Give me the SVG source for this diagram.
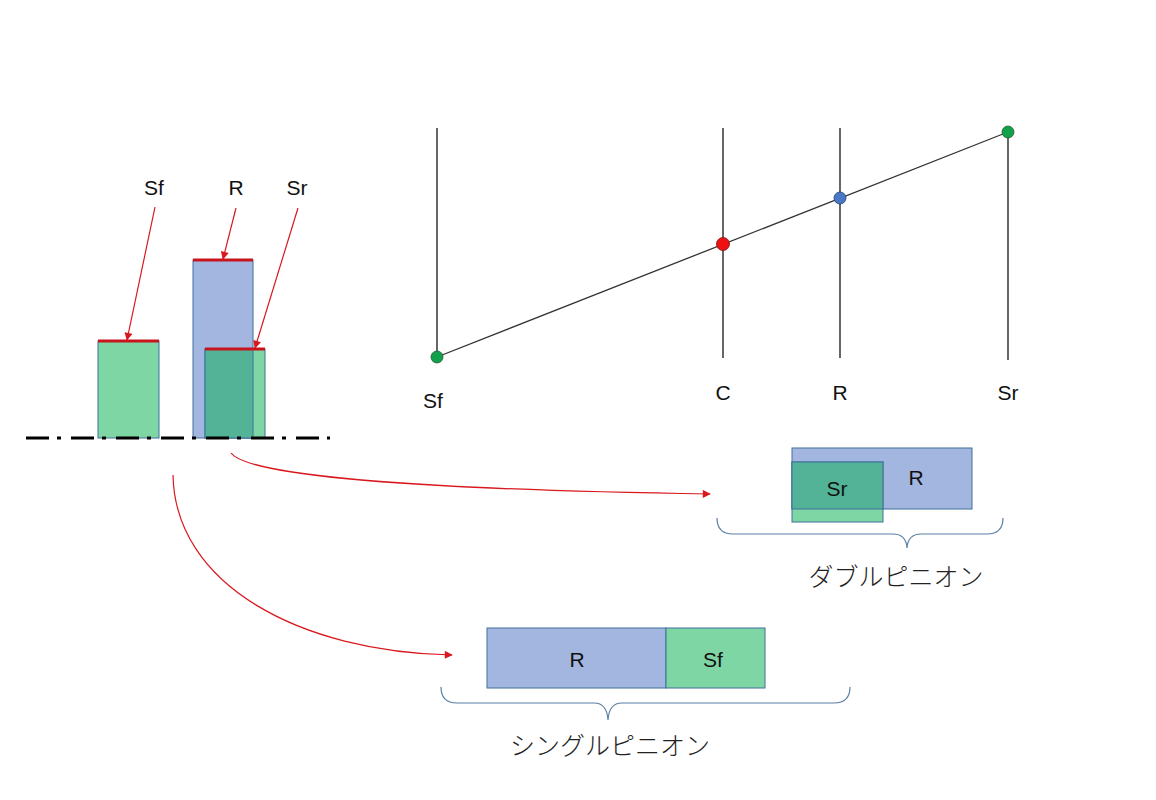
<svg xmlns="http://www.w3.org/2000/svg" width="1156" height="800" viewBox="0 0 1156 800">
<defs>
<marker id="ah" viewBox="0 0 10 10" refX="9" refY="5" markerWidth="9" markerHeight="8" markerUnits="userSpaceOnUse" orient="auto">
<path d="M0,0 L10,5 L0,10 Z" fill="#d9181e"/>
</marker>
<style>
.lbl{font-family:"Liberation Sans",Arial,sans-serif;font-size:21px;fill:#111;text-anchor:middle}
.jp{font-family:"Noto Sans CJK JP","Liberation Sans",sans-serif;font-size:25px;font-weight:300;fill:#222;text-anchor:middle}
.green{fill:#7fd6a5;stroke:#41719c;stroke-width:1}
.blue{fill:#a2b6e0;stroke:#41719c;stroke-width:1}
.teal{fill:#52b396;stroke:#41719c;stroke-width:1}
.red{stroke:#d9181e;stroke-width:1.2;fill:none}
.top{stroke:#c8141c;stroke-width:3}
.vl{stroke:#000;stroke-width:1.2}
.brace{fill:none;stroke:#5a7ea6;stroke-width:1.2}
</style>
</defs>
<rect width="1156" height="800" fill="#fff"/>

<g id="left-bars">
<rect class="green" x="98" y="341" width="61" height="97"/>
<rect class="blue" x="193" y="260" width="60" height="178"/>
<rect class="green" x="205" y="349" width="60" height="89"/>
<rect class="teal" x="205" y="349" width="48" height="89"/>
<line class="top" x1="98" y1="341" x2="159" y2="341"/>
<line class="top" x1="193" y1="260" x2="253" y2="260"/>
<line class="top" x1="205" y1="349" x2="265" y2="349"/>
<line x1="26" y1="438" x2="330" y2="438" stroke="#000" stroke-width="3" stroke-dasharray="23 8 4 10"/>
<text class="lbl" x="154" y="195">Sf</text>
<text class="lbl" x="236" y="195">R</text>
<text class="lbl" x="297" y="195">Sr</text>
</g>

<g id="nomogram">
<line class="vl" x1="437" y1="128" x2="437" y2="357"/>
<line class="vl" x1="723" y1="128" x2="723" y2="358"/>
<line class="vl" x1="840" y1="128" x2="840" y2="358"/>
<line class="vl" x1="1008" y1="132" x2="1008" y2="360"/>
<line x1="437" y1="357" x2="1008" y2="132" stroke="#333" stroke-width="1.3"/>
<circle cx="437" cy="357" r="6" fill="#12a04a" stroke="#1d5a33" stroke-width="0.8"/>
<circle cx="723" cy="244" r="6.5" fill="#ee1111" stroke="#7a1010" stroke-width="0.8"/>
<circle cx="840" cy="198" r="6" fill="#4a78c6" stroke="#23406e" stroke-width="0.8"/>
<circle cx="1008" cy="132" r="6" fill="#12a04a" stroke="#1d5a33" stroke-width="0.8"/>
<text class="lbl" x="433" y="408">Sf</text>
<text class="lbl" x="723" y="400">C</text>
<text class="lbl" x="840" y="400">R</text>
<text class="lbl" x="1008" y="400">Sr</text>
</g>

<g id="double-pinion">
<rect class="blue" x="792" y="448" width="180" height="61"/>
<rect class="green" x="792" y="462" width="91" height="60"/>
<rect class="teal" x="792" y="462" width="91" height="47"/>
<text class="lbl" x="837" y="496">Sr</text>
<text class="lbl" x="916" y="485">R</text>
<path class="brace" d="M717,518 Q717,534 733,534 L893,534 Q906,534 907,548 Q908,534 921,534 L987,534 Q1003,534 1003,518"/>
<text class="jp" x="896" y="586">ダブルピニオン</text>
</g>

<g id="single-pinion">
<rect class="blue" x="487" y="628" width="179" height="60"/>
<rect class="green" x="666" y="628" width="99" height="60"/>
<text class="lbl" x="577" y="667">R</text>
<text class="lbl" x="713" y="667">Sf</text>
<path class="brace" d="M441,687 Q441,703 457,703 L594,703 Q607,703 608,720 Q609,703 622,703 L834,703 Q850,703 850,687"/>
<text class="jp" x="610" y="755">シングルピニオン</text>
</g>

<g id="connectors">
<line class="red" x1="155" y1="207" x2="127" y2="340" marker-end="url(#ah)"/>
<line class="red" x1="236" y1="208" x2="223" y2="259" marker-end="url(#ah)"/>
<line class="red" x1="298" y1="208" x2="255" y2="348" marker-end="url(#ah)"/>
<path class="red" d="M231,453 C250,478 450,490 710,494" marker-end="url(#ah)"/>
<path class="red" d="M173,475 C175,585 300,652 452,655" marker-end="url(#ah)"/>
</g>
</svg>
